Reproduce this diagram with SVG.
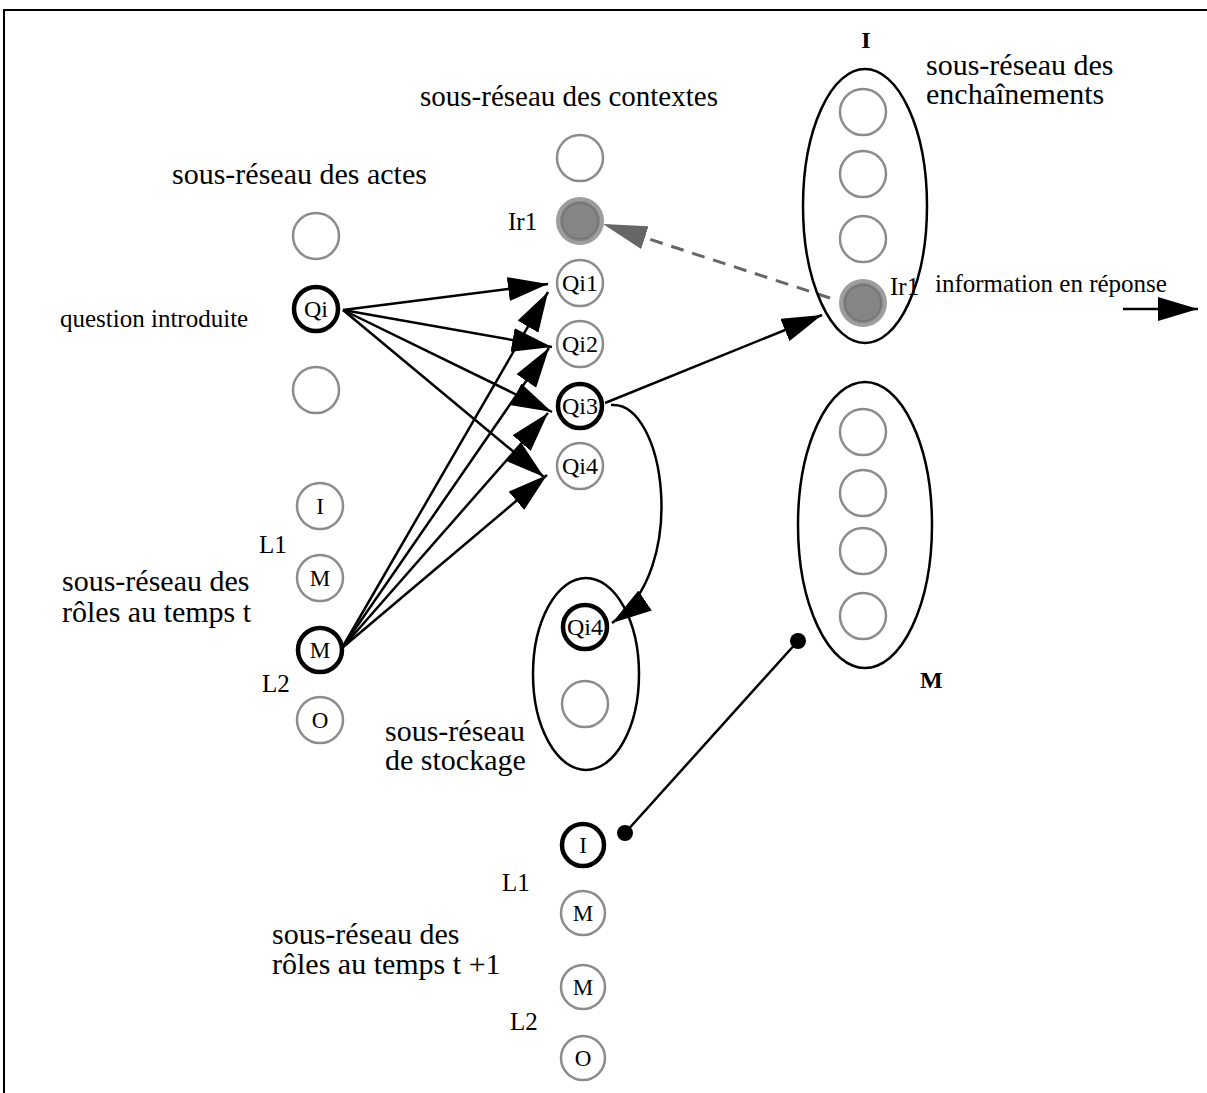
<svg xmlns="http://www.w3.org/2000/svg" width="1207" height="1093" viewBox="0 0 1207 1093">
<style>
text{font-family:"Liberation Serif","Times New Roman",serif;fill:#000}
.big{font-size:30px}
.sm{font-size:25px}
.lab{font-size:24px;text-anchor:middle}
.rl{font-size:23px;text-anchor:middle}
.bold{font-size:24px;font-weight:bold}
.n{fill:#fff;stroke:#8c8c8c;stroke-width:2.5}
.b{fill:#fff;stroke:#000;stroke-width:4.5}
.e{fill:none;stroke:#000;stroke-width:2.5}
.f{fill:#858585;stroke:#9e9e9e;stroke-width:4}
.fi{fill:none;stroke:#6a6a6a;stroke-width:1}
.c{fill:none;stroke:#000;stroke-width:2.5}
</style>
<defs>
<marker id="ah" viewBox="0 0 40 24" refX="40" refY="12" markerWidth="40" markerHeight="24" markerUnits="userSpaceOnUse" orient="auto"><path d="M0,0 L40,12 L0,24 z" fill="#000"/></marker>
<marker id="ag" viewBox="0 0 44 24" refX="44" refY="12" markerWidth="44" markerHeight="24" markerUnits="userSpaceOnUse" orient="auto"><path d="M0,0 L44,12 L0,24 z" fill="#666"/></marker>
<marker id="dot" viewBox="0 0 16 16" refX="8" refY="8" markerWidth="16" markerHeight="16" markerUnits="userSpaceOnUse"><circle cx="8" cy="8" r="8" fill="#000"/></marker>
</defs>
<path d="M4,1093 V10 H1207" fill="none" stroke="#000" stroke-width="2"/>

<g id="labels">
<text class="big" x="172" y="184">sous-réseau des actes</text>
<text class="big" x="420" y="106" style="font-size:29px">sous-réseau des contextes</text>
<text class="big" x="926" y="75">sous-réseau des</text>
<text class="big" x="926" y="104">enchaînements</text>
<text class="sm" x="60" y="327">question introduite</text>
<text class="big" x="62" y="591">sous-réseau des</text>
<text class="big" x="62" y="622">rôles au temps t</text>
<text class="sm" x="259" y="553">L1</text>
<text class="sm" x="262" y="692">L2</text>
<text class="big" x="385" y="741">sous-réseau</text>
<text class="big" x="385" y="770">de stockage</text>
<text class="big" x="272" y="944">sous-réseau des</text>
<text class="big" x="272" y="974">rôles au temps t +1</text>
<text class="sm" x="502" y="891">L1</text>
<text class="sm" x="510" y="1030">L2</text>
<text class="sm" x="508" y="230">Ir1</text>
<text class="sm" x="890" y="295">Ir1</text>
<text class="sm" x="935" y="292">information en réponse</text>
<text class="bold" x="866" y="48" text-anchor="middle">I</text>
<text class="bold" x="920" y="688">M</text>
</g>

<g id="connectors">
<line class="c" x1="343" y1="310" x2="548" y2="284" marker-end="url(#ah)"/>
<line class="c" x1="343" y1="310" x2="552" y2="347" marker-end="url(#ah)"/>
<line class="c" x1="343" y1="310" x2="552" y2="412" marker-end="url(#ah)"/>
<line class="c" x1="343" y1="310" x2="544" y2="477" marker-end="url(#ah)"/>
<line class="c" x1="342" y1="648" x2="548" y2="292" marker-end="url(#ah)"/>
<line class="c" x1="342" y1="648" x2="549" y2="348" marker-end="url(#ah)"/>
<line class="c" x1="342" y1="648" x2="548" y2="413" marker-end="url(#ah)"/>
<line class="c" x1="342" y1="648" x2="547" y2="475" marker-end="url(#ah)"/>
<line class="c" x1="605" y1="403" x2="822" y2="315" marker-end="url(#ah)"/>
<path class="c" d="M611,405 C665,400 690,570 612,623" marker-end="url(#ah)"/>
<line x1="830" y1="298" x2="603" y2="224" stroke="#666" stroke-width="3" stroke-dasharray="13,9" marker-end="url(#ag)"/>
<line class="c" x1="1123" y1="309" x2="1198" y2="309" marker-end="url(#ah)"/>
<line class="c" x1="798" y1="641" x2="625" y2="833" marker-start="url(#dot)" marker-end="url(#dot)"/>
</g>

<g id="actes">
<circle class="n" cx="316" cy="236" r="23"/>
<g id="Qi"><circle class="b" cx="316" cy="309" r="22"/><text class="lab" x="316" y="317">Qi</text></g>
<circle class="n" cx="316" cy="390" r="23"/>
</g>

<g id="roles-t">
<g id="rI"><circle class="n" cx="320" cy="506" r="23"/><text class="rl" x="320" y="514">I</text></g>
<g id="rM1"><circle class="n" cx="320" cy="578" r="23"/><text class="rl" x="320" y="586">M</text></g>
<g id="rM2"><circle class="b" cx="320" cy="650" r="22"/><text class="rl" x="320" y="658">M</text></g>
<g id="rO"><circle class="n" cx="320" cy="720" r="23"/><text class="rl" x="320" y="728">O</text></g>
</g>

<g id="contextes">
<circle class="n" cx="580" cy="158" r="23"/>
<g id="cIr1"><circle class="f" cx="580" cy="221" r="22"/><circle class="fi" cx="580" cy="221" r="18"/></g>
<g id="Qi1"><circle class="n" cx="580" cy="283" r="23"/><text class="lab" x="580" y="291">Qi1</text></g>
<g id="Qi2"><circle class="n" cx="580" cy="344" r="23"/><text class="lab" x="580" y="352">Qi2</text></g>
<g id="Qi3"><circle class="b" cx="580" cy="406" r="22"/><text class="lab" x="580" y="414">Qi3</text></g>
<g id="Qi4"><circle class="n" cx="580" cy="466" r="23"/><text class="lab" x="580" y="474">Qi4</text></g>
</g>

<g id="enchainements-I">
<ellipse class="e" cx="865" cy="206" rx="62" ry="137"/>
<circle class="n" cx="863" cy="112" r="23"/>
<circle class="n" cx="863" cy="174" r="23"/>
<circle class="n" cx="863" cy="239" r="23"/>
<g id="eIr1"><circle class="f" cx="863" cy="303" r="22"/><circle class="fi" cx="863" cy="303" r="18"/></g>
</g>

<g id="enchainements-M">
<ellipse class="e" cx="865" cy="525" rx="67" ry="143"/>
<circle class="n" cx="863" cy="432" r="23"/>
<circle class="n" cx="863" cy="493" r="23"/>
<circle class="n" cx="863" cy="551" r="23"/>
<circle class="n" cx="863" cy="616" r="23"/>
</g>

<g id="stockage">
<ellipse class="e" cx="586" cy="674" rx="53" ry="96"/>
<g id="sQi4"><circle class="b" cx="585" cy="627" r="22"/><text class="lab" x="585" y="635">Qi4</text></g>
<circle class="n" cx="585" cy="704" r="23"/>
</g>

<g id="roles-t1">
<g id="tI"><circle class="b" cx="583" cy="845" r="21"/><text class="rl" x="583" y="853">I</text></g>
<g id="tM1"><circle class="n" cx="583" cy="913" r="22"/><text class="rl" x="583" y="921">M</text></g>
<g id="tM2"><circle class="n" cx="583" cy="987" r="22"/><text class="rl" x="583" y="995">M</text></g>
<g id="tO"><circle class="n" cx="583" cy="1058" r="22"/><text class="rl" x="583" y="1066">O</text></g>
</g>
</svg>
